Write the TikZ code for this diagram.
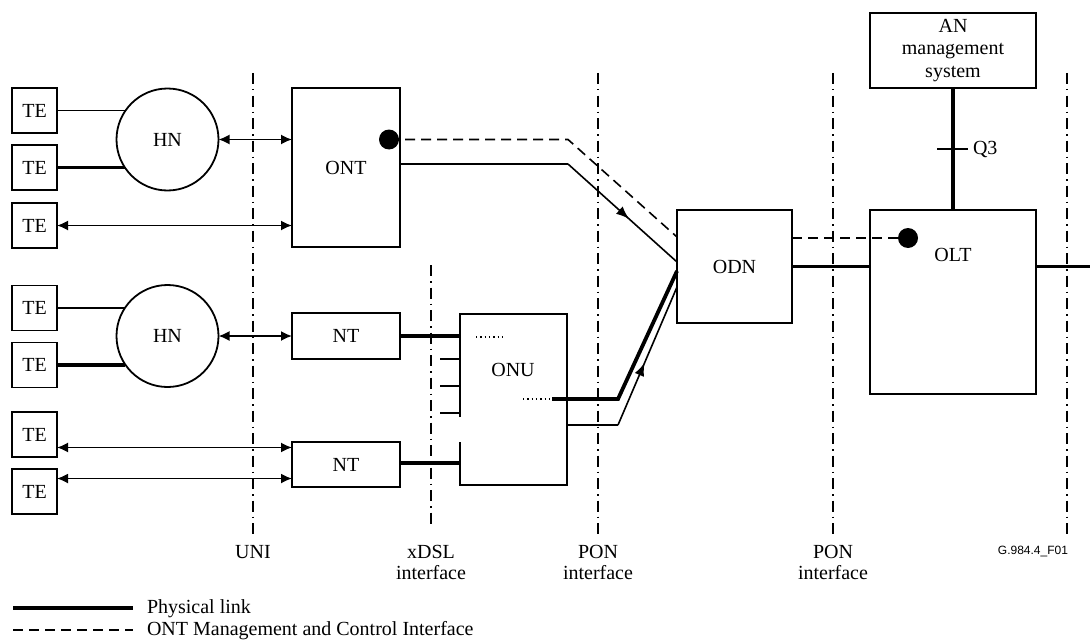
\documentclass[tikz,border=0pt]{standalone}
\usepackage{fontspec}
\setmainfont{Liberation Serif}
\newfontfamily\figsans{Liberation Sans}
\usetikzlibrary{arrows.meta,decorations.markings}
\begin{document}
\begin{tikzpicture}[x=1pt,y=-1pt,
  every node/.style={font=\fontsize{20}{21}\selectfont, inner sep=0pt, outer sep=0pt},
  box/.style={draw, line width=1.8pt, rectangle},
  hn/.style={draw, line width=1.8pt, circle, minimum size=102pt},
  dot/.style={fill, circle, minimum size=20pt},
  thinlink/.style={line width=1.6pt},
  thicklink/.style={line width=3.8pt},
  stub/.style={line width=2.4pt},
  mgmt/.style={line width=1.6pt, dash pattern=on 10pt off 6pt},
  iface/.style={line width=1.4pt, dash pattern=on 11pt off 5pt on 1.5pt off 5pt},
  biarrow/.style={line width=1.7pt, {Latex[length=11pt,width=10pt]}-{Latex[length=11pt,width=10pt]}},
  dotted line/.style={line width=1.3pt, dash pattern=on 1.3pt off 3pt},
  midarrow/.style={postaction={decorate}, decoration={markings, mark=at position #1 with {\arrow{Latex[length=13pt,width=10pt]}}}},
  lbl/.style={align=center}
]
\useasboundingbox (0,0) rectangle (1090,642);

% interface lines
\coordinate (uniT) at (253,73);  \coordinate (uniB) at (253,535);
\coordinate (xdslT) at (431,265); \coordinate (xdslB) at (431,527);
\coordinate (pon1T) at (598,73); \coordinate (pon1B) at (598,535);
\coordinate (pon2T) at (833,73); \coordinate (pon2B) at (833,535);
\coordinate (rgtT) at (1067,73); \coordinate (rgtB) at (1067,535);
\draw[iface] (uniT) -- (uniB);
\draw[iface] (xdslT) -- (xdslB);
\draw[iface] (pon1T) -- (pon1B);
\draw[iface] (pon2T) -- (pon2B);
\draw[iface] (rgtT) -- (rgtB);

% TE boxes
\node[box, minimum width=45pt, minimum height=45pt] (te1) at (34.5,110.5) {TE};
\node[box, minimum width=45pt, minimum height=45pt] (te2) at (34.5,167.5) {TE};
\node[box, minimum width=45pt, minimum height=45pt] (te3) at (34.5,225.5) {TE};
\node[box, minimum width=45pt, minimum height=45pt] (te4) at (34.5,308) {TE};
\node[box, minimum width=45pt, minimum height=45pt] (te5) at (34.5,365) {TE};
\node[box, minimum width=45pt, minimum height=45pt] (te6) at (34.5,434.5) {TE};
\node[box, minimum width=45pt, minimum height=45pt] (te7) at (34.5,491.5) {TE};

% home networks
\node[hn] (hn1) at (167.5,139.5) {HN};
\node[hn] (hn2) at (167.5,336) {HN};

% ONT and NTs
\node[box, minimum width=108pt, minimum height=159pt] (ont) at (346,167.5) {};
\node (ontlbl) at (346,168) {ONT};
\node[box, minimum width=108pt, minimum height=46pt] (nt1) at (346,336) {NT};
\node[box, minimum width=108pt, minimum height=45pt] (nt2) at (346,464.5) {NT};

% ONU (left edge broken)
\node[minimum width=107pt, minimum height=171pt] (onu) at (513.5,399.5) {};
\node (onulbl) at (513,370) {ONU};
\draw[line width=1.6pt] (onu.west |- 0,417) -- (onu.north west) -- (onu.north east) -- (onu.south east) -- (onu.south west) -- (onu.west |- 0,442);

% ODN, OLT, AN
\node[box, minimum width=115pt, minimum height=113pt] (odn) at (734.5,266.5) {ODN};
\node[box, minimum width=166pt, minimum height=184pt] (olt) at (953,302) {};
\node (oltlbl) at (953,255) {OLT};
\node[box, minimum width=166pt, minimum height=75pt, lbl, font=\fontsize{20}{22.5}\selectfont] (an) at (953,50.5) {AN\\management\\system};

% dots
\node[dot] (ontdot) at (389,139.5) {};
\node[dot] (oltdot) at (908,238) {};

% TE - HN links
\draw[thinlink] (te1.east) -- (te1.east -| hn1.146);
\draw[thicklink] (te2.east) -- (te2.east -| hn1.214);
\draw[thinlink] (te4.east) -- (te4.east -| hn2.146);
\draw[thicklink] (te5.east) -- (te5.east -| hn2.214);

% UNI arrows
\draw[biarrow] (hn1.east) -- (hn1.east -| ont.west);
\draw[biarrow] (te3.east) -- (te3.east -| ont.west);
\draw[biarrow] (hn2.east) -- (hn2.east -| nt1.west);
\draw[biarrow] (te6.-30) -- (te6.-30 -| nt2.west);
\draw[biarrow] (te7.30) -- (te7.30 -| nt2.west);

% NT - ONU
\draw[thicklink] (nt1.east) -- (nt1.east -| onu.west);
\draw[thicklink] (nt2.east |- 0,463) -- (onu.west |- 0,463);
\draw[stub] (onu.west |- 0,359) -- ++(-20,0);
\draw[stub] (onu.west |- 0,386) -- ++(-20,0);
\draw[stub] (onu.west |- 0,413) -- ++(-20,0);
\draw[dotted line] (476,337) -- (503,337);

% ONU - ODN
\coordinate (u1) at (552,399);
\coordinate (u2) at (618,399);
\coordinate (u3) at (677,271);
\draw[dotted line] (523,399) -- (u1);
\draw[thicklink, line join=miter] (u1) -- (u2) -- (u3);
\coordinate (v2) at (618,425);
\coordinate (v3) at (677,287);
\draw[thinlink] (onu.east |- v2) -- (v2);
\draw[thinlink, midarrow=0.45] (v2) -- (v3);

% ONT - ODN
\coordinate (s2) at (568,164);
\coordinate (s3) at (677,262);
\draw[thinlink] (ont.east |- s2) -- (s2);
\draw[thinlink, midarrow=0.56] (s2) -- (s3);
\coordinate (d2) at (568,139.5);
\coordinate (d3) at (677,237);
\draw[mgmt] (ontdot.center) -- (d2) -- (d3);

% ODN - OLT
\draw[thicklink] (odn.east) -- (odn.east -| olt.west);
\coordinate (rgtend) at (1090,266.5);
\draw[thicklink] (odn.east -| olt.east) -- (rgtend);
\draw[mgmt] (odn.east |- oltdot) -- (oltdot.center);

% AN - OLT
\draw[thicklink] (an.south) -- (olt.north);
\coordinate (q3) at (953,149);
\draw[line width=1.8pt] (q3) ++(-16,0) -- ++(31,0);
\node[anchor=west] (q3lbl) at (973,149) {Q3};

% interface labels
\node (unilbl) at (253,552) {UNI};
\node[lbl] (xdsllbl) at (431,562) {xDSL\\interface};
\node[lbl] (pon1lbl) at (598,562) {PON\\interface};
\node[lbl] (pon2lbl) at (833,562) {PON\\interface};
\node[anchor=east, font=\figsans\fontsize{12}{13}\selectfont] (figid) at (1068,551) {G.984.4\_F01};

% legend
\coordinate (l1a) at (13,608); \coordinate (l1b) at (133,608);
\coordinate (l2a) at (13,630); \coordinate (l2b) at (133,630);
\draw[thicklink] (l1a) -- (l1b);
\draw[mgmt] (l2a) -- (l2b);
\node[anchor=west] (leg1) at (147,609) {Physical link};
\node[anchor=west] (leg2) at (147,631) {ONT Management and Control Interface};
\end{tikzpicture}
\end{document}
